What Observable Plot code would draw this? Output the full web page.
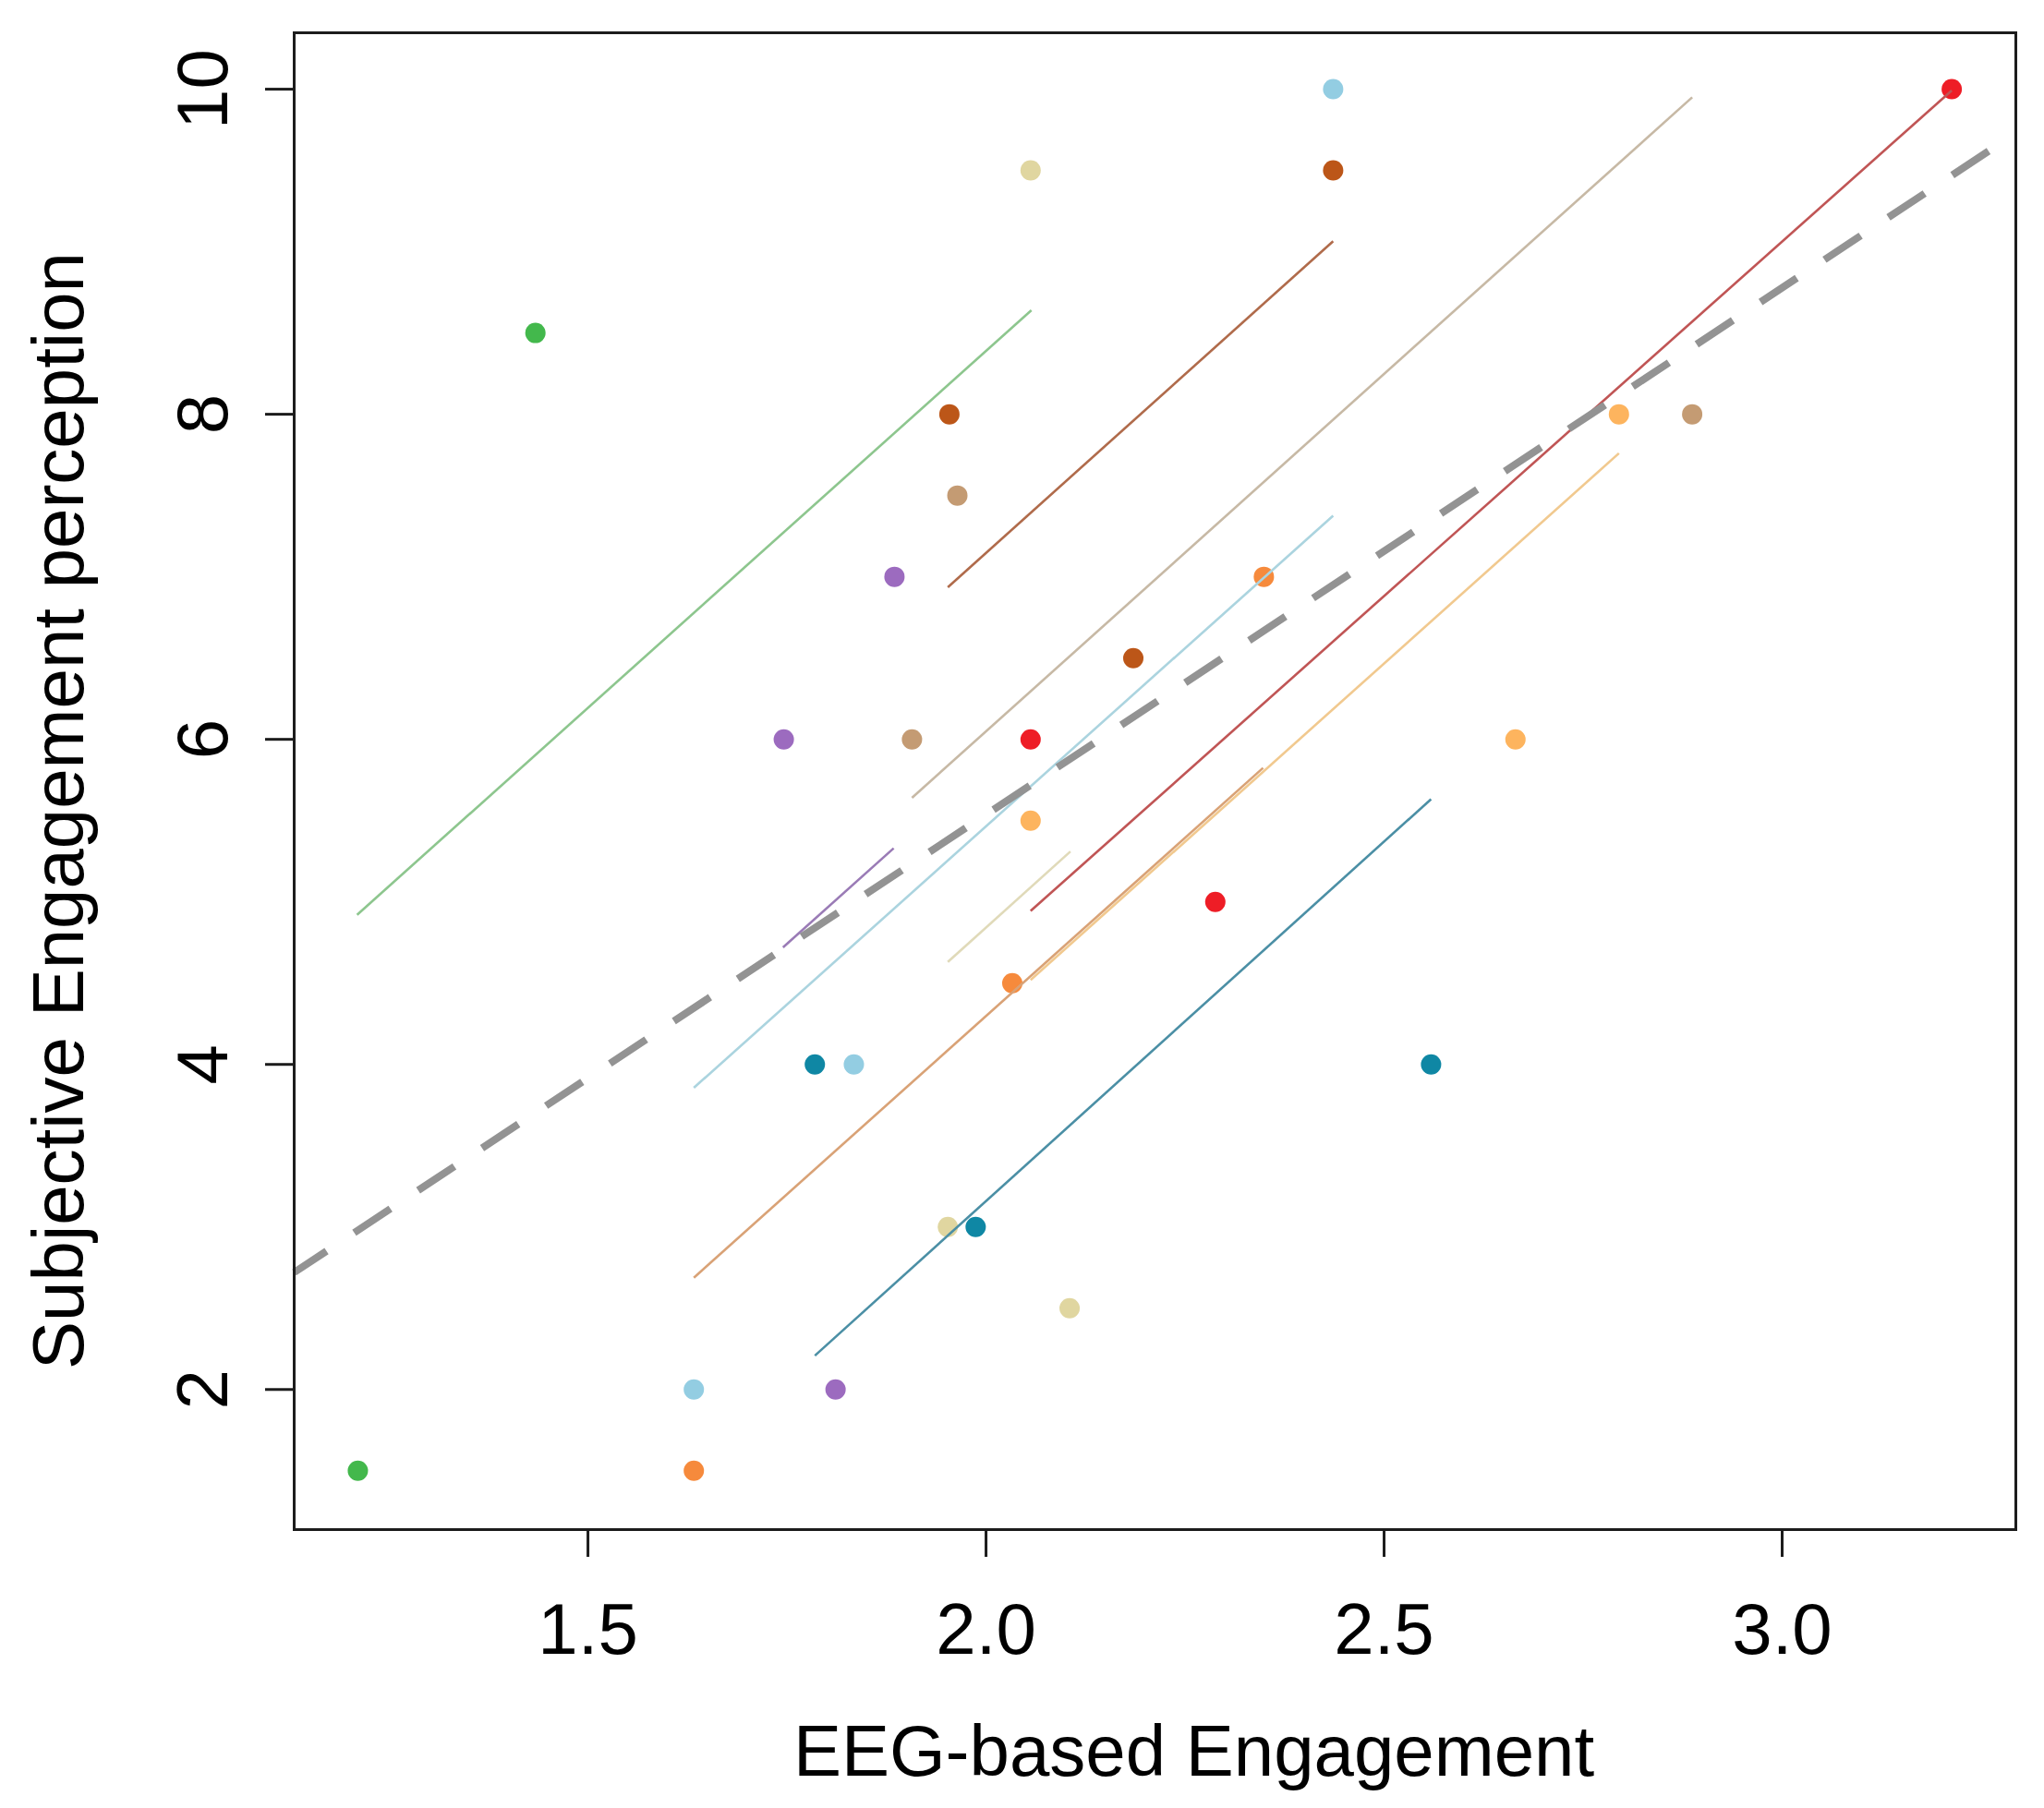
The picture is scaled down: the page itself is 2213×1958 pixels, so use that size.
<!DOCTYPE html>
<html>
<head>
<meta charset="utf-8">
<script src="https://cdn.jsdelivr.net/npm/d3@7"></script>
<script src="https://cdn.jsdelivr.net/npm/@observablehq/plot@0.6"></script>
<style>
  html, body { margin: 0; padding: 0; background: #ffffff; }
  #chart svg { display: block; }
</style>
</head>
<body>
<div id="chart"></div>
<script>
// ---- Data ----
const groups      = ["green", "orange", "lightblue", "purple", "wheat", "teal", "red", "peach", "rust", "tan"];
const pointColors = ["#43b84c", "#f68a3c", "#93cde2", "#9c6bbf", "#e0d6a0", "#0f87a4", "#ee1d26", "#fdb45e", "#bc5618", "#c49b73"];
const lineColors  = ["#8dc68e", "#d9a276", "#abd4df", "#9a7bb6", "#e0dab9", "#4b8fa5", "#c05555", "#f1c98f", "#b06b4b", "#c7b9a5"];

// individual observations: group index, EEG-based engagement, subjective engagement
const pointGroup = [0, 0, 1, 1, 1, 2, 2, 2, 3, 3, 3, 4, 4, 4, 5, 5, 5, 6, 6, 6, 7, 7, 7, 8, 8, 8, 9, 9, 9];
const pointX = [1.211, 1.434, 1.633, 2.033, 2.349, 1.633, 1.834, 2.436, 1.811, 1.746, 1.885,
                2.105, 1.952, 2.056, 1.785, 1.987, 2.559, 2.288, 2.056, 3.213, 2.056, 2.665, 2.795,
                1.954, 2.185, 2.436, 1.907, 1.964, 2.887];
const pointY = [1.5, 8.5, 1.5, 4.5, 7.0, 2.0, 4.0, 10.0, 2.0, 6.0, 7.0,
                2.5, 3.0, 9.5, 4.0, 3.0, 4.0, 5.0, 6.0, 10.0, 5.5, 6.0, 8.0,
                8.0, 6.5, 9.5, 6.0, 7.5, 8.0];

// per-participant fitted lines (start / end)
const lineX1 = [1.210, 1.633, 1.633, 1.745, 1.952, 1.785, 2.056, 2.056, 1.952, 1.907];
const lineY1 = [4.920, 2.688, 3.856, 4.720, 4.630, 2.208, 4.944, 4.520, 6.936, 5.640];
const lineX2 = [2.057, 2.348, 2.436, 1.884, 2.106, 2.559, 3.213, 2.795, 2.436, 2.887];
const lineY2 = [8.640, 5.824, 7.376, 5.330, 5.310, 5.632, 9.992, 7.760, 9.064, 9.950];

// overall (population) fitted line
const popX = [1.131, 3.2935];
const popY = [2.72, 9.73];

// axes
const xDomain = [1.131, 3.2935];
const yDomain = [1.138, 10.347];
const xTicks = [1.5, 2.0, 2.5, 3.0];
const yTicks = [2, 4, 6, 8, 10];
const xTitle = "EEG-based Engagement";
const yTitle = "Subjective Engagement perception";

// ---- Tables built from the arrays ----
const points = pointX.map((x, i) => ({x, y: pointY[i], color: pointColors[pointGroup[i]], group: groups[pointGroup[i]]}));
const lines = groups.map((g, i) => ({group: g, x1: lineX1[i], y1: lineY1[i], x2: lineX2[i], y2: lineY2[i], color: lineColors[i]}));
const pop = [{x1: popX[0], y1: popY[0], x2: popX[1], y2: popY[1]}];

const FONT = "'Liberation Sans', Arial, Helvetica, sans-serif";

const chart = Plot.plot({
  width: 2213,
  height: 1958,
  marginLeft: 318,
  marginRight: 31,
  marginTop: 35,
  marginBottom: 302,
  style: {fontFamily: FONT, background: "#ffffff", color: "#000000"},
  x: {domain: xDomain},
  y: {domain: yDomain},
  color: {type: "identity"},
  marks: [
    Plot.dot(points, {x: "x", y: "y", fill: "color", r: 11}),
    Plot.link(lines, {x1: "x1", y1: "y1", x2: "x2", y2: "y2", stroke: "color", strokeWidth: 2.6}),
    Plot.link(pop, {x1: "x1", y1: "y1", x2: "x2", y2: "y2", stroke: "#939393", strokeWidth: 8,
                    strokeDasharray: "47 36", strokeDashoffset: 5, strokeLinecap: "butt"}),
    Plot.frame({stroke: "#1c1c1c", strokeWidth: 3}),
    Plot.axisX({ticks: xTicks, tickSize: 30, tickPadding: 49, fontSize: 78, strokeWidth: 3,
                stroke: "#1c1c1c", label: null, tickFormat: d => d.toFixed(1)}),
    Plot.axisY({ticks: yTicks, tickSize: 31, strokeWidth: 3, stroke: "#1c1c1c",
                label: null, tickFormat: () => ""}),
    Plot.text(yTicks, {y: d => d, text: d => String(d), frameAnchor: "left", dx: -73,
                       rotate: -90, textAnchor: "middle", lineAnchor: "bottom", fontSize: 78, fill: "#000"}),
    Plot.text([xTitle], {text: d => d, frameAnchor: "bottom", dx: 42, dy: 266,
                         textAnchor: "middle", lineAnchor: "bottom", fontSize: 78, fill: "#000"}),
    Plot.text([yTitle], {text: d => d, frameAnchor: "left", dx: -229, dy: 32, rotate: -90,
                         textAnchor: "middle", lineAnchor: "bottom", fontSize: 78, fill: "#000"})
  ]
});
document.getElementById("chart").appendChild(chart);
</script>
</body>
</html>
